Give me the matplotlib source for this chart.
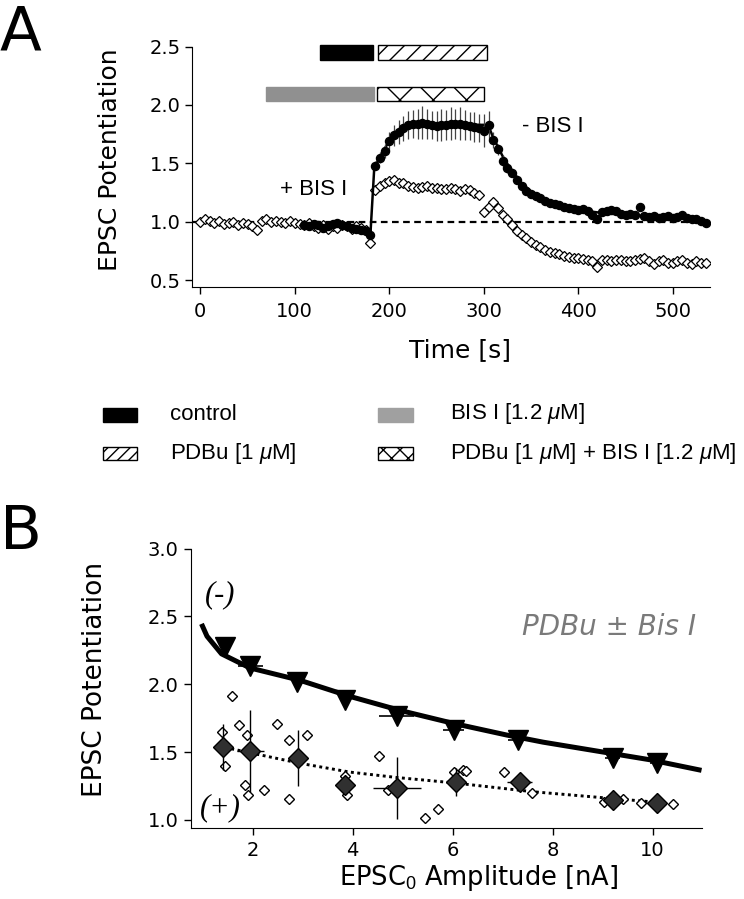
import numpy as np
import matplotlib
matplotlib.use("Agg")
import matplotlib.pyplot as plt
from matplotlib.patches import Rectangle

plt.rcParams['font.family'] = ['DejaVu Sans']
plt.rcParams['mathtext.fontset'] = 'custom'
plt.rcParams['mathtext.rm'] = 'Liberation Sans'
plt.rcParams['mathtext.it'] = 'Liberation Sans:italic'
plt.rcParams['hatch.linewidth'] = 1.0

# ---------------- Panel A data ----------------
t_bis = np.arange(0, 540, 5)
bis_y = [1.00, 1.02, 1.01, 0.99, 1.01, 0.98, 0.99, 1.00, 0.97, 0.99, 0.98, 0.96,
         0.93, 1.01, 1.02, 1.00, 1.01, 1.00, 0.99, 1.01, 0.99, 0.98, 0.97, 0.99,
         0.96, 0.95, 0.97, 0.94, 0.96, 0.95, 0.97, 0.96, 0.94, 0.96, 0.95, 0.93,
         0.82,
         1.27, 1.31, 1.33, 1.35, 1.36, 1.33, 1.33, 1.31, 1.30, 1.29, 1.30, 1.31,
         1.29, 1.29, 1.28, 1.28, 1.29, 1.28, 1.26, 1.28, 1.27, 1.25, 1.23,
         1.08, 1.13, 1.17, 1.12, 1.06, 1.02, 0.97, 0.92, 0.89, 0.86, 0.83, 0.80,
         0.78, 0.76, 0.74, 0.73, 0.72, 0.71, 0.70, 0.69,
         0.69, 0.68, 0.67, 0.66, 0.61, 0.67, 0.67, 0.66, 0.67, 0.67, 0.66, 0.66,
         0.67, 0.68, 0.69, 0.66, 0.64, 0.66, 0.67, 0.65, 0.65, 0.66, 0.67, 0.65,
         0.64, 0.66, 0.65, 0.65]
bis_err = ([0.02] * 37) + ([0.04] * 23) + ([0.04] * 20) + ([0.03] * 28)

t_ctrl = np.arange(110, 540, 5)
ctrl_y = [0.97, 0.96, 0.98, 0.97, 0.95, 0.96, 0.98, 0.99, 0.97, 0.96, 0.95, 0.94, 0.93, 0.92,
          0.89,
          1.48, 1.55, 1.61, 1.69, 1.74, 1.77, 1.80, 1.83, 1.84, 1.84, 1.85, 1.84, 1.83,
          1.82, 1.83, 1.83, 1.84, 1.84, 1.84, 1.83, 1.82, 1.81, 1.80, 1.78, 1.83,
          1.70, 1.62, 1.52, 1.46, 1.42, 1.36, 1.31, 1.26, 1.24, 1.22, 1.20, 1.18,
          1.16, 1.15, 1.14, 1.13, 1.12, 1.11, 1.10,
          1.11, 1.09, 1.06, 1.02, 1.08, 1.09, 1.10, 1.09, 1.07, 1.06, 1.07, 1.06,
          1.13, 1.05, 1.04, 1.05, 1.03, 1.04, 1.05, 1.03, 1.04, 1.06, 1.03, 1.02,
          1.02, 1.01, 0.99]
ctrl_err = ([0.02] * 15) + \
    [0.04, 0.05, 0.06, 0.08, 0.09, 0.10, 0.11, 0.12, 0.12, 0.13, 0.14, 0.13, 0.12,
     0.13, 0.14, 0.13, 0.14, 0.13, 0.14, 0.13, 0.12, 0.13, 0.12, 0.14, 0.12] + \
    [0.07, 0.05, 0.05, 0.04, 0.04, 0.04, 0.03, 0.03, 0.03, 0.03, 0.03, 0.03,
     0.03, 0.03, 0.03, 0.03, 0.03, 0.03, 0.03] + \
    ([0.03] * 27)

fit_t = [180, 184, 190, 200, 210, 220, 230, 300, 305, 310, 320, 330, 340, 350, 360,
         380, 400, 430, 470, 535]
fit_y = [0.89, 1.45, 1.56, 1.69, 1.77, 1.81, 1.83, 1.83, 1.82, 1.72, 1.56, 1.43,
         1.33, 1.26, 1.21, 1.14, 1.10, 1.07, 1.05, 1.01]

# drug application bars: (start, end) in s
bar_control = (127, 183)
bar_pdbu = (188, 303)
bar_bis = (70, 184)
bar_pdbu_bis = (187, 300)

# ---------------- Panel B data ----------------
tri_x = [1.45, 1.95, 2.88, 3.84, 4.88, 6.02, 7.30, 9.20, 10.09]
tri_y = [2.276, 2.133, 2.016, 1.885, 1.768, 1.664, 1.586, 1.456, 1.417]
tri_xerr = [0.05, 0.25, 0.05, 0.05, 0.35, 0.2, 0.2, 0.15, 0.15]
tri_yerr = [0.02, 0.02, 0.02, 0.02, 0.02, 0.02, 0.02, 0.02, 0.02]

dia_x = [1.41, 1.95, 2.91, 3.84, 4.88, 6.06, 7.34, 9.20, 10.09]
dia_y = [1.534, 1.508, 1.456, 1.26, 1.234, 1.279, 1.279, 1.143, 1.122]
dia_xerr = [0.05, 0.27, 0.05, 0.05, 0.48, 0.1, 0.25, 0.1, 0.1]
dia_yerr = [0.17, 0.30, 0.21, 0.03, 0.23, 0.10, 0.03, 0.03, 0.03]

ind_x = [1.59, 1.38, 1.73, 1.88, 1.45, 1.84, 1.91, 2.23, 2.48, 2.73, 3.09, 2.73,
         3.84, 3.88, 4.52, 4.70, 5.45, 5.70, 6.02, 6.20, 6.27, 7.02, 7.59,
         9.02, 9.41, 9.77, 10.41]
ind_y = [1.91, 1.65, 1.70, 1.625, 1.40, 1.26, 1.18, 1.22, 1.71, 1.586, 1.625, 1.156,
         1.326, 1.18, 1.47, 1.22, 1.013, 1.078, 1.35, 1.365, 1.357, 1.35, 1.195,
         1.13, 1.156, 1.122, 1.117]

fitB_x = [0.98, 1.09, 1.38, 1.95, 2.95, 3.95, 4.95, 6.02, 7.09, 7.81, 8.88, 9.95, 10.98]
fitB_y = [2.445, 2.354, 2.224, 2.12, 2.029, 1.91, 1.807, 1.711, 1.625, 1.573, 1.508,
          1.443, 1.365]

dotB_x = [1.45, 1.95, 2.95, 3.95, 4.88, 6.02, 7.59, 9.24, 10.09]
dotB_y = [1.534, 1.495, 1.417, 1.352, 1.3125, 1.273, 1.208, 1.156, 1.13]

# ---------------- Figure ----------------
W, H = 744, 899
fig = plt.figure(figsize=(W / 100, H / 100), dpi=100)


def rect(l, t, r, b):
    return [l / W, 1 - b / H, (r - l) / W, (b - t) / H]


tick_fs = 14
label_fs = 18

# ---- Panel A ----
axA = fig.add_axes(rect(192, 42, 710, 287))
axA.axhline(1.0, color='black', lw=1.6, ls=(0, (3, 2)), zorder=1)
axA.errorbar(t_bis, bis_y, yerr=bis_err, fmt='D', ms=4.6, mfc='white', mec='black',
             mew=0.9, ecolor='#555555', elinewidth=0.8, capsize=0, zorder=3)
axA.plot(fit_t, fit_y, color='black', lw=1.8, zorder=4)
axA.errorbar(t_ctrl, ctrl_y, yerr=ctrl_err, fmt='o', ms=5.8, color='black',
             ecolor='#444444', elinewidth=0.9, capsize=0, zorder=5)

axA.barh(2.45, bar_control[1] - bar_control[0], left=bar_control[0], height=0.128,
         color='black', edgecolor='black', clip_on=False)
axA.barh(2.45, bar_pdbu[1] - bar_pdbu[0], left=bar_pdbu[0], height=0.128,
         color='white', edgecolor='black', hatch='//', lw=1.0, clip_on=False)
axA.barh(2.094, bar_bis[1] - bar_bis[0], left=bar_bis[0], height=0.12,
         color='#909090', edgecolor='#909090', clip_on=False)
axA.barh(2.094, bar_pdbu_bis[1] - bar_pdbu_bis[0], left=bar_pdbu_bis[0], height=0.12,
         color='white', edgecolor='black', hatch='x', lw=1.0, clip_on=False)

axA.text(84, 1.276, '+ BIS I', family='Liberation Sans', fontsize=16, va='center', ha='left')
axA.text(340, 1.816, '- BIS I', family='Liberation Sans', fontsize=16, va='center', ha='left')

axA.set_xlim(-8.8, 539.4)
axA.set_ylim(0.44, 2.54)
axA.set_xticks([0, 100, 200, 300, 400, 500])
axA.set_yticks([0.5, 1.0, 1.5, 2.0, 2.5])
axA.set_yticklabels(['0.5', '1.0', '1.5', '2.0', '2.5'])
axA.spines['top'].set_visible(False)
axA.spines['right'].set_visible(False)
axA.spines['left'].set_bounds(0.44, 2.5)
axA.tick_params(direction='out', length=5, width=1, labelsize=tick_fs)
axA.tick_params(axis='x', pad=6)
axA.tick_params(axis='y', pad=3)
axA.set_xlabel('Time [s]', fontsize=label_fs)
axA.xaxis.set_label_coords(0.517, -0.257)
axA.xaxis.label.set_va('center')
axA.set_ylabel('EPSC Potentiation', fontsize=label_fs)
axA.yaxis.set_label_coords(-0.158, 0.518)
axA.yaxis.label.set_va('center')

# ---- Panel B ----
axB = fig.add_axes(rect(191, 548.6, 702, 828))
axB.plot(fitB_x, fitB_y, color='black', lw=3.6, solid_capstyle='butt', zorder=2)
axB.plot(dotB_x, dotB_y, color='black', lw=2.1, ls=(0, (1, 1.2)), zorder=2)
axB.plot(ind_x, ind_y, 'D', ls='none', ms=5.0, mfc='white', mec='black', mew=1.0, zorder=3)
axB.errorbar(dia_x, dia_y, xerr=dia_xerr, yerr=dia_yerr, fmt='D', ms=10, mfc='#303030',
             mec='black', mew=1.0, ecolor='black', elinewidth=1.0, capsize=0, zorder=4)
axB.errorbar(tri_x, tri_y, xerr=tri_xerr, yerr=tri_yerr, fmt='v', ms=14, color='black',
             ecolor='black', elinewidth=1.2, capsize=0, zorder=5)

axB.text(1.35, 2.66, '(-)', family='Liberation Serif', style='italic', fontsize=22,
         ha='center', va='center')
axB.text(1.35, 1.09, '(+)', family='Liberation Serif', style='italic', fontsize=22,
         ha='center', va='center')
axB.text(10.87, 2.42, 'PDBu ± Bis I', style='italic', fontsize=20, color='#7a7a7a',
         ha='right', va='center')

axB.set_xlim(0.77, 10.99)
axB.set_ylim(0.94, 3.0)
axB.set_xticks([2, 4, 6, 8, 10])
axB.set_yticks([1.0, 1.5, 2.0, 2.5, 3.0])
axB.set_yticklabels(['1.0', '1.5', '2.0', '2.5', '3.0'])
axB.spines['top'].set_visible(False)
axB.spines['right'].set_visible(False)
axB.tick_params(direction='out', length=5, width=1, labelsize=tick_fs)
axB.tick_params(axis='x', pad=4)
axB.tick_params(axis='y', pad=4)
axB.set_xlabel('EPSC$_0$ Amplitude [nA]', fontsize=18.5)
axB.xaxis.set_label_coords(0.562, -0.18)
axB.xaxis.label.set_va('center')
axB.set_ylabel('EPSC Potentiation', fontsize=19)
axB.yaxis.set_label_coords(-0.188, 0.53)
axB.yaxis.label.set_va('center')

# ---- Panel letters ----
fig.text(0 / W, 1 - 3 / H, 'A', fontsize=44, ha='left', va='top')
fig.text(0 / W, 1 - 503 / H, 'B', fontsize=44, ha='left', va='top')

# ---- Legend (figure pixel coordinates) ----
lg = fig.add_axes([0, 0, 1, 1])
lg.set_xlim(0, W)
lg.set_ylim(H, 0)
lg.axis('off')
lg.patch.set_alpha(0)
lg.add_patch(Rectangle((103, 408), 34, 14, facecolor='black', edgecolor='black'))
lg.add_patch(Rectangle((103, 447), 34, 13, facecolor='white', edgecolor='black',
                       hatch='///', lw=1.0))
lg.add_patch(Rectangle((378, 408), 35, 14, facecolor='#a0a0a0', edgecolor='#a0a0a0'))
lg.add_patch(Rectangle((378, 447), 35, 13, facecolor='white', edgecolor='black',
                       hatch='xx', lw=1.0))
leg_fs = 16
lg.text(170, 414, 'control', family='Liberation Sans', fontsize=leg_fs, va='center')
lg.text(170, 454, r'PDBu [1 $\mu$M]', family='Liberation Sans', fontsize=leg_fs, va='center')
lg.text(450, 414, r'BIS I [1.2 $\mu$M]', family='Liberation Sans', fontsize=leg_fs, va='center')
lg.text(450, 454, r'PDBu [1 $\mu$M] + BIS I [1.2 $\mu$M]', family='Liberation Sans',
        fontsize=leg_fs, va='center')

fig.savefig('out.png', dpi=100)
